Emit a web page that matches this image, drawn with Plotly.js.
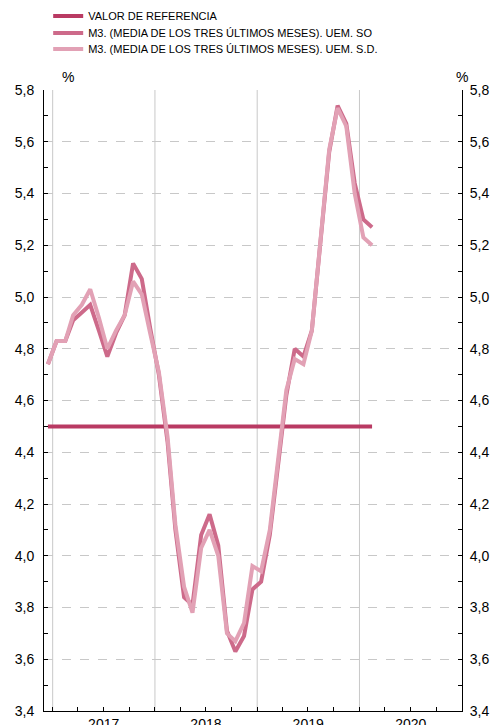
<!DOCTYPE html>
<html><head><meta charset="utf-8">
<script src="https://cdn.plot.ly/plotly-3.0.1.min.js"></script>
<style>html,body{margin:0;padding:0;background:#fff}#chart{width:495px;height:725px}</style>
</head><body><div id="chart"></div>
<script>
const months = ['2016-12-15',
  '2017-01-15','2017-02-15','2017-03-15','2017-04-15','2017-05-15','2017-06-15',
  '2017-07-15','2017-08-15','2017-09-15','2017-10-15','2017-11-15','2017-12-15',
  '2018-01-15','2018-02-15','2018-03-15','2018-04-15','2018-05-15','2018-06-15',
  '2018-07-15','2018-08-15','2018-09-15','2018-10-15','2018-11-15','2018-12-15',
  '2019-01-15','2019-02-15','2019-03-15','2019-04-15','2019-05-15','2019-06-15',
  '2019-07-15','2019-08-15','2019-09-15','2019-10-15','2019-11-15','2019-12-15',
  '2020-01-15','2020-02-15'];
const m3SO = [4.74,
  4.83,4.83,4.91,4.94,4.97,4.87,4.77,4.86,4.93,5.13,5.07,4.88,
  4.70,4.44,4.10,3.84,3.81,4.08,4.16,4.04,3.71,3.63,3.69,3.87,
  3.90,4.08,4.33,4.62,4.80,4.77,4.87,5.21,5.56,5.74,5.67,5.44,
  5.30,5.27];
const m3SD = [4.74,
  4.83,4.83,4.93,4.97,5.03,4.92,4.80,4.87,4.93,5.06,5.01,4.86,
  4.71,4.46,4.12,3.88,3.78,4.03,4.10,4.00,3.70,3.67,3.74,3.96,
  3.94,4.10,4.35,4.64,4.76,4.74,4.87,5.22,5.57,5.73,5.66,5.40,
  5.23,5.20];
const refMonths = ['2016-12-15','2020-02-15'];
const refValues = [4.5, 4.5];
const yearStarts = ['2017-01-01','2018-01-01','2019-01-01','2020-01-01'];
const yearMids = ['2017-07-02','2018-07-02','2019-07-02','2020-07-02'];
const yearLabels = ['2017','2018','2019','2020'];
const names = ['VALOR DE REFERENCIA',
  'M3. (MEDIA DE LOS TRES ÚLTIMOS MESES). UEM. SO',
  'M3. (MEDIA DE LOS TRES ÚLTIMOS MESES). UEM. S.D.'];

const cRef = '#b93a63', cSO = '#cd6a8a', cSD = '#e2a1b5';
const font = 'Liberation Sans, Arial, sans-serif';

const traces = [
  {x: refMonths, y: refValues, name: names[0], type: 'scatter', mode: 'lines',
   line: {color: cRef, width: 4}, yaxis: 'y', legend: 'legend'},
  {x: months, y: m3SO, name: names[1], type: 'scatter', mode: 'lines',
   line: {color: cSO, width: 4}, yaxis: 'y', legend: 'legend2'},
  {x: months, y: m3SD, name: names[2], type: 'scatter', mode: 'lines',
   line: {color: cSD, width: 4}, yaxis: 'y2', legend: 'legend3'}
];

const yBase = {
  range: [3.4, 5.8], tick0: 3.4, dtick: 0.2, tickformat: '.1f',
  ticks: 'inside', ticklen: 4, tickcolor: '#000', tickwidth: 1,
  showline: true, linecolor: '#000', linewidth: 1,
  zeroline: false, fixedrange: true,
  tickfont: {family: font, size: 14, color: '#000'},
  minor: {dtick: 0.1, tick0: 3.4, ticks: 'inside', ticklen: 4, tickcolor: '#000', showgrid: false}
};

function leg(py) {
  return {x: 0.01, y: 1 + (90 - py) / 621, xanchor: 'left', yanchor: 'middle',
    font: {family: font, size: 11, color: '#000'}, bgcolor: 'rgba(0,0,0,0)', borderwidth: 0};
}

const layout = {
  width: 495, height: 725,
  margin: {l: 44, r: 33, t: 90, b: 14, autoexpand: false},
  paper_bgcolor: '#fff', plot_bgcolor: '#fff',
  separators: ',.',
  font: {family: font, color: '#000'},
  showlegend: true,
  legend: leg(16),
  legend2: leg(33),
  legend3: leg(49),
  xaxis: {
    type: 'date', range: ['2016-12-01', '2021-01-01'],
    tickmode: 'array', tickvals: yearMids, ticktext: yearLabels, ticks: '',
    showgrid: false, zeroline: false, showline: true, linecolor: '#000', linewidth: 1,
    tickfont: {family: font, size: 14, color: '#000'}, fixedrange: true,
    minor: {dtick: 'M3', tick0: '2017-01-01', ticks: 'inside', ticklen: 4, tickcolor: '#000', showgrid: false}
  },
  yaxis: Object.assign({}, yBase, {side: 'left', showgrid: true, gridcolor: '#c8c8c8', griddash: 'dash', gridwidth: 1, ticklabelstandoff: 6}),
  yaxis2: Object.assign({}, yBase, {side: 'right', overlaying: 'y', showgrid: false, ticklabelstandoff: 4}),
  shapes: yearStarts.map(d => ({type: 'line', xref: 'x', yref: 'paper', x0: d, x1: d, y0: 0, y1: 1,
    line: {color: '#c8c8c8', width: 1}, layer: 'below'})),
  annotations: [
    {text: '%', xref: 'paper', yref: 'paper', x: 0.058, y: 1.0, yanchor: 'bottom', xanchor: 'center', yshift: 3,
     showarrow: false, font: {family: font, size: 14, color: '#000'}},
    {text: '%', xref: 'paper', yref: 'paper', x: 1.0, y: 1.0, yanchor: 'bottom', xanchor: 'center', yshift: 3,
     showarrow: false, font: {family: font, size: 14, color: '#000'}}
  ]
};

Plotly.newPlot('chart', traces, layout, {displayModeBar: false, staticPlot: true});
</script>
</body></html>
